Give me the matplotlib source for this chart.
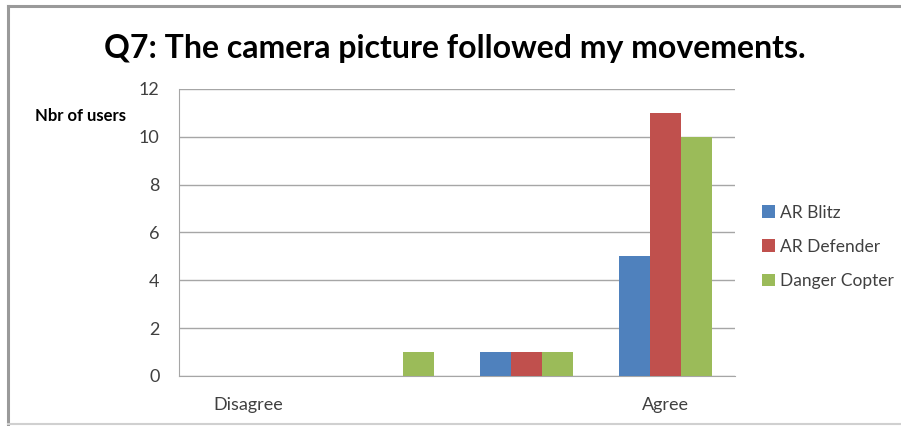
import numpy as np
import matplotlib.pyplot as plt
from matplotlib.lines import Line2D

# data
categories = ['Disagree', '', '', 'Agree']
series = ['AR Blitz', 'AR Defender', 'Danger Copter']
ar_blitz = [0, 0, 1, 5]
ar_defender = [0, 0, 1, 11]
danger_copter = [0, 1, 1, 10]
yticks = [0, 2, 4, 6, 8, 10, 12]

colors = ['#4f81bd', '#c0504d', '#9bbb59']

plt.rcParams['font.family'] = ['Lato', 'DejaVu Sans']

fig = plt.figure(figsize=(9.01, 4.26), dpi=100)
ax = fig.add_axes([0.1987, 0.1174, 0.6171, 0.6737])

x = np.arange(len(categories))
w = 0.223
for i, (vals, name) in enumerate(zip([ar_blitz, ar_defender, danger_copter], series)):
    ax.bar(x + (i - 1) * w, vals, width=w, color=colors[i], label=name, zorder=3)

ax.set_xlim(-0.5, len(categories) - 0.5)
ax.set_ylim(0, 12)
ax.set_yticks(yticks)
ax.set_xticks(x)
ax.set_xticklabels(categories)
ax.yaxis.grid(True, color='#a6a6a6', linewidth=1)
ax.set_axisbelow(True)
for s in ['top', 'right']:
    ax.spines[s].set_visible(False)
for s in ['left', 'bottom']:
    ax.spines[s].set_color('#a6a6a6')
ax.tick_params(axis='both', length=0, labelsize=13, colors='#404040')
ax.tick_params(axis='y', pad=14)
ax.tick_params(axis='x', pad=15)

fig.text(0.505, 0.885, 'Q7: The camera picture followed my movements.',
         ha='center', va='center', fontsize=23, fontweight='bold', color='black')
fig.text(0.039, 0.728, 'Nbr of users', ha='left', va='center',
         fontsize=12, fontweight='bold', color='black')

ax.legend(loc='center left', bbox_to_anchor=(1.02, 0.45), frameon=False,
          fontsize=12.5, handlelength=0.75, handleheight=0.75, handletextpad=0.3,
          labelspacing=1.05, labelcolor='#404040')

# frame around the chart area
fig.add_artist(Line2D([0.009, 0.009], [0.0, 0.986], color='#9a9a9a', linewidth=2.2))
fig.add_artist(Line2D([0.009, 1.0], [0.986, 0.986], color='#9a9a9a', linewidth=2.2))
fig.add_artist(Line2D([0.009, 1.0], [0.005, 0.005], color='#d0d0d0', linewidth=1.5))

fig.savefig('out.png', dpi=100)
